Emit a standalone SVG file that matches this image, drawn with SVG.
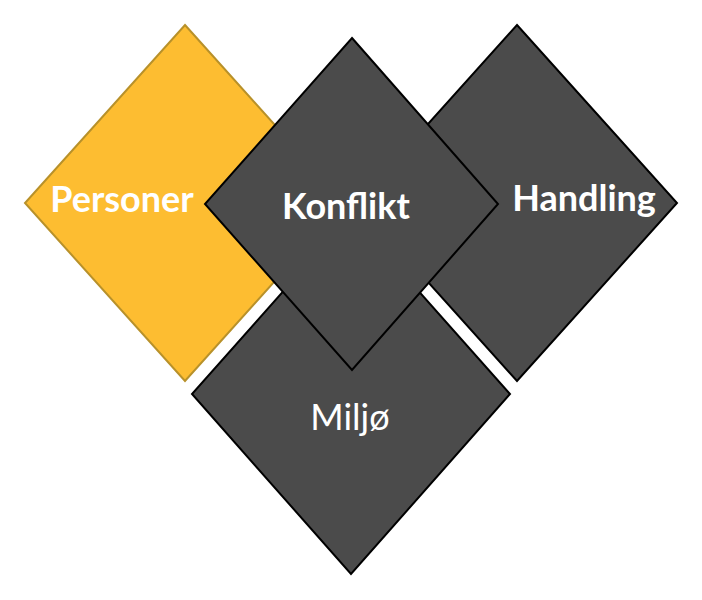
<svg xmlns="http://www.w3.org/2000/svg" width="702" height="600" viewBox="0 0 702 600">
<style>
.d{fill:#4b4b4b;stroke:#000;stroke-width:2;stroke-linejoin:miter}
.y{fill:#fdbd31;stroke:#b8912a;stroke-width:2}
.t{font-family:Lato,"Open Sans","Liberation Sans",sans-serif;fill:#fff;text-anchor:middle;font-size:36px}
.b{font-weight:bold}
.r{font-weight:normal}
</style>
<rect width="702" height="600" fill="#fff"/>
<g id="personer">
<polygon class="y" points="185,25 345,203 185,381 25,203"/>
<text class="t b" x="122" y="212">Personer</text>
</g>
<g id="handling">
<polygon class="d" points="517,25 677,203 517,381 357,203"/>
<text class="t b" x="584" y="211">Handling</text>
</g>
<g id="miljo">
<polygon class="d" points="351,215 510,394 351,574 192,394"/>
<text class="t r" x="350" y="430">Miljø</text>
</g>
<g id="konflikt">
<polygon class="d" points="352,38 498,204 352,370 205,204"/>
<text class="t b" x="346" y="219">Konflikt</text>
</g>
<g id="connectors"/>
</svg>
